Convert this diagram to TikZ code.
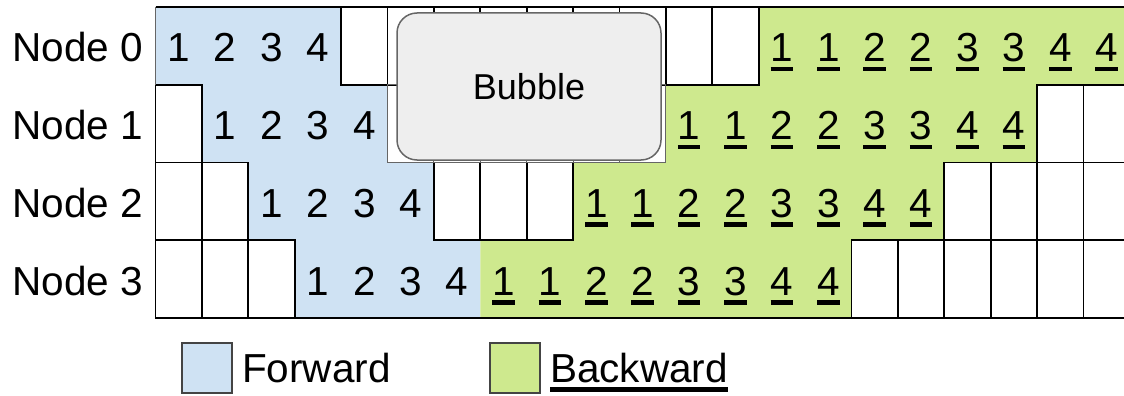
\documentclass[tikz,border=0pt]{standalone}
\usepackage{fontspec}
\setmainfont{Liberation Sans}
\definecolor{fwd}{RGB}{207,226,243}
\definecolor{bwd}{RGB}{206,233,142}
\definecolor{bubblefill}{RGB}{238,238,238}
\definecolor{bubbleline}{RGB}{102,102,102}
\definecolor{boxline}{RGB}{68,68,68}
% thick underline spanning the full width of its argument
\newcommand\ulword[1]{\setbox0=\hbox{#1}\rlap{\rule[-9.5pt]{\wd0}{4.5pt}}\box0}
\begin{document}
\begin{tikzpicture}[x=1pt,y=-1pt,
  cellline/.style={draw=black,line width=1.8pt},
  softline/.style={draw=bubbleline,line width=1pt},
  dig/.style={font=\fontsize{40.5}{46}\selectfont,inner sep=0pt,anchor=base},
  lbl/.style={font=\fontsize{40.5}{46}\selectfont,inner sep=0pt},
  bubblebox/.style={draw=bubbleline,fill=bubblefill,line width=1.5pt,
    rounded corners=20pt,minimum width=264pt,minimum height=147pt,
    inner sep=0pt,font=\fontsize{36}{41}\selectfont},
  legbox/.style={draw=boxline,line width=1.8pt,minimum size=50pt,inner sep=0pt}]
\useasboundingbox (0,0) rectangle (1124,396);
\clip (0,0) rectangle (1124,396);

% pipeline grid: one column per time slot, one row per node
\begin{scope}[shift={(155.5,7)},x=46.4pt,y=-77.75pt]
  % forward and backward regions
  \fill[fwd] (0,0) -| (4,1) -| (5,2) -| (6,3) -| (7,4) -| (3,3) -| (2,2) -| (1,1) -| (0,0) -- cycle;
  \fill[bwd] (13,0) -| (21,1) -| (19,2) -| (17,3) -| (15,4) -| (7,3) -| (9,2) -| (11,1) -| (13,0) -- cycle;

  % idle slots
  \foreach \r/\cs in {0/{4,5,6,7,8,9,10,11,12},1/{0,19,20},2/{0,1,6,7,8,17,18,19,20},3/{0,1,2,15,16,17,18,19,20}}
    \foreach \c in \cs
      \draw[cellline] (\c,\r) rectangle ({\c+1},{\r+1});
  \foreach \c in {5,...,10}
    \draw[softline] (\c,1) rectangle ({\c+1},2);

  % outer frame
  \draw[cellline] (0,0) -- (21,0);
  \draw[cellline] (0,4) -- (21,4);
  \draw[softline] (0,0) -- (0,1);

  % forward micro-batches
  \foreach \r in {0,1,2,3}
    \foreach \k in {1,...,4}
      \node[dig] (f\r\k) at ({\r+\k-0.5},{\r+0.707}) {\k};

  % backward micro-batches
  \foreach \r/\g in {0/13,1/11,2/9,3/7}
    \foreach \k/\v in {0/1,1/1,2/2,3/2,4/3,5/3,6/4,7/4}
      \node[dig] (b\r\k) at ({\g+\k+0.5},{\r+0.707}) {\ulword{\v}};

  % row labels
  \foreach \r in {0,1,2,3}
    \node[lbl,anchor=base east] (n\r) at (-0.26,{\r+0.707}) {Node \r};
\end{scope}

\node[bubblebox] (bubble) at (529,86.5) {Bubble};

% legend
\node[legbox,fill=fwd] (kf) at (207,368) {};
\node[lbl,anchor=base west] (tf) at (242,382) {Forward};
\node[legbox,fill=bwd] (kb) at (515,368) {};
\node[lbl,anchor=base west] (tb) at (550,382) {\ulword{Backward}};
\end{tikzpicture}
\end{document}
